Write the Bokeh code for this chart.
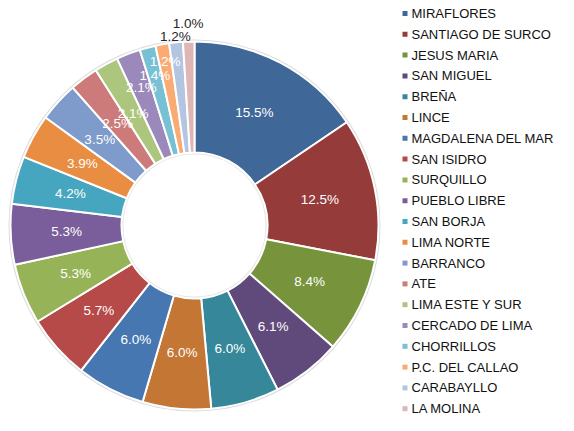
import math
from bokeh.plotting import figure
from bokeh.models import Range1d, ColumnDataSource
from bokeh.core.properties import value
from bokeh.embed import file_html
from bokeh.resources import INLINE

districts = ["MIRAFLORES", "SANTIAGO DE SURCO", "JESUS MARIA", "SAN MIGUEL", "BREÑA",
             "LINCE", "MAGDALENA DEL MAR", "SAN ISIDRO", "SURQUILLO", "PUEBLO LIBRE",
             "SAN BORJA", "LIMA NORTE", "BARRANCO", "ATE", "LIMA ESTE Y SUR",
             "CERCADO DE LIMA", "CHORRILLOS", "P.C. DEL CALLAO", "CARABAYLLO", "LA MOLINA"]
shares = [15.5, 12.5, 8.4, 6.1, 6.0, 6.0, 6.0, 5.7, 5.3, 5.3,
          4.2, 3.9, 3.5, 2.5, 2.1, 2.1, 1.4, 1.2, 1.2, 1.0]
colors = ["#3F6798", "#953B3A", "#77933C", "#604A7B", "#37879A",
          "#C47635", "#4777B0", "#B54A48", "#96B457", "#7A5E9B",
          "#47A6BF", "#E98D42", "#7E9BCB", "#CC7A7A", "#ADC67E",
          "#9C89BC", "#78C0D3", "#F9AB73", "#B4C5E2", "#DEB6B6"]

# label placement styles (radius from centre, text colour)
label_radius = [128] * 15 + [148, 155, 167, 190, 202]
label_color = ["white"] * 18 + ["#262626", "#262626"]

W, H = 558, 415
cx, cy = 194, H - 225
r_in, r_out = 73, 184

total = sum(shares)
starts, ends, lx, ly, labels = [], [], [], [], []
cum = 0.0
for i, v in enumerate(shares):
    f = v / total
    a0 = math.pi / 2 - cum * 2 * math.pi
    a1 = math.pi / 2 - (cum + f) * 2 * math.pi
    am = math.pi / 2 - (cum + f / 2) * 2 * math.pi
    starts.append(a0)
    ends.append(a1)
    lx.append(cx + label_radius[i] * math.cos(am))
    ly.append(cy + label_radius[i] * math.sin(am))
    labels.append(f"{v:.1f}%")
    cum += f

p = figure(width=W, height=H, output_backend="svg", toolbar_location=None,
           x_range=Range1d(0, W), y_range=Range1d(0, H), min_border=0)
p.axis.visible = False
p.grid.visible = False
p.outline_line_color = None

src = ColumnDataSource(dict(start=starts, end=ends, color=colors, lx=lx, ly=ly,
                            label=labels, lcolor=label_color))

# faint shadow rings
p.circle(x=cx, y=cy, radius=r_out + 1, fill_color=None, line_color="#dcdcdc", line_width=2)
p.circle(x=cx, y=cy, radius=r_in - 1, fill_color=None, line_color="#e4e4e4", line_width=2)

p.annular_wedge(x=cx, y=cy, inner_radius=r_in, outer_radius=r_out,
                start_angle="start", end_angle="end", direction="clock",
                fill_color="color", line_color="white", line_width=2, source=src)

p.text(x="lx", y="ly", text="label", text_color="lcolor", source=src,
       text_align="center", text_baseline="middle",
       text_font=value("Liberation Sans"), text_font_size="13.5px")

# legend
top, pitch = 13, 20.8
leg_y = [H - (top + i * pitch) for i in range(len(districts))]
leg = ColumnDataSource(dict(x=[404.5] * len(districts), tx=[411] * len(districts),
                            y=leg_y, name=districts, color=colors))
p.scatter(x="x", y="y", marker="square", size=5, fill_color="color",
          line_color=None, source=leg)
p.text(x="tx", y="y", text="name", source=leg, text_color="#111111",
       text_align="left", text_baseline="middle",
       text_font=value("Liberation Sans"), text_font_size="13px")

open("out.html", "w").write(file_html(p, INLINE))
